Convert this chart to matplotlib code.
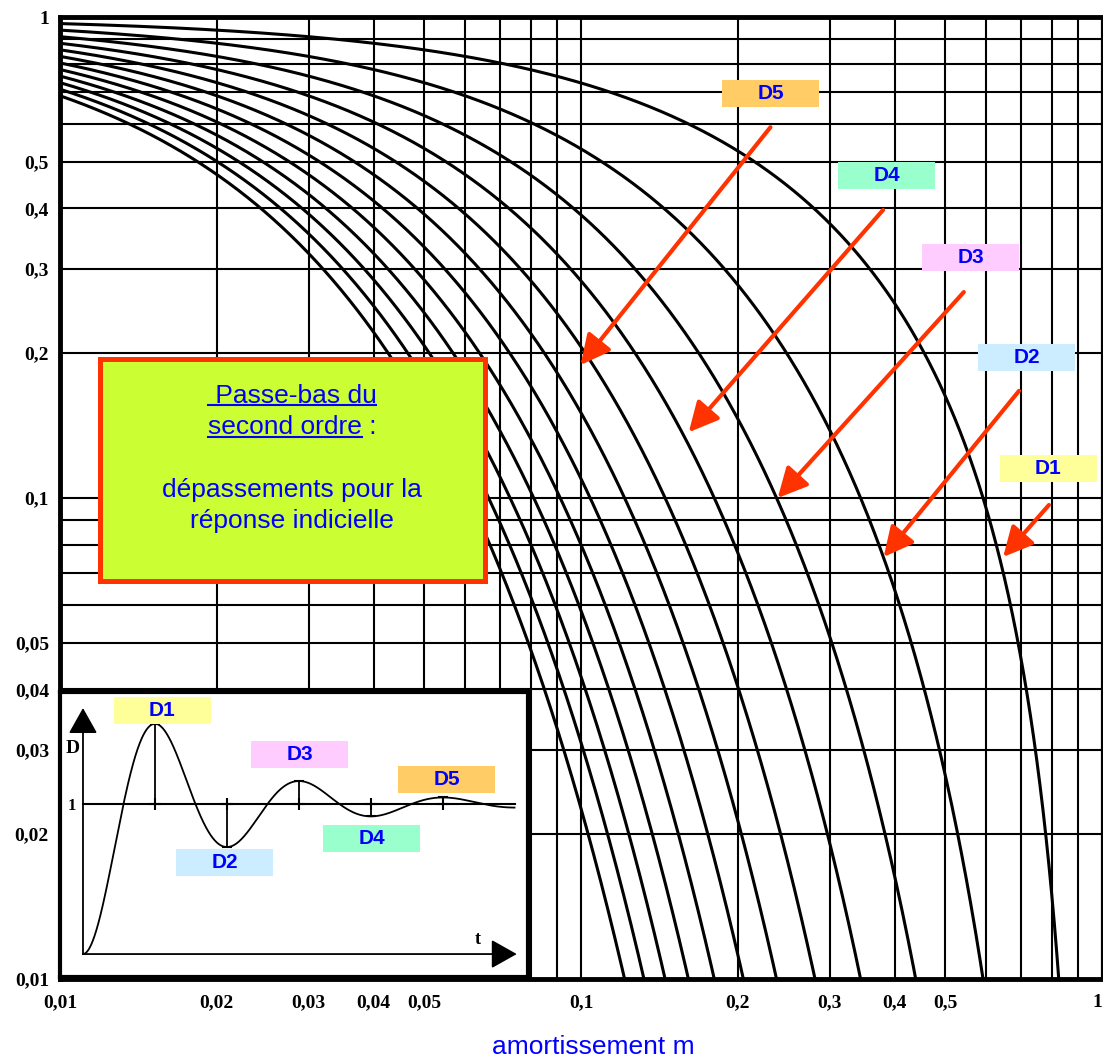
import numpy as np
import matplotlib
matplotlib.use("Agg")
import matplotlib.pyplot as plt
from matplotlib.patches import Rectangle
from matplotlib.ticker import LogLocator, NullFormatter

# orders n of the overshoots D_n drawn on the abacus
orders = list(range(1, 13))

x_ticks = [0.01, 0.02, 0.03, 0.04, 0.05, 0.1, 0.2, 0.3, 0.4, 0.5, 1]
x_tick_labels = ["0,01", "0,02", "0,03", "0,04", "0,05", "0,1", "0,2", "0,3", "0,4", "0,5", "1"]
y_ticks = [0.01, 0.02, 0.03, 0.04, 0.05, 0.1, 0.2, 0.3, 0.4, 0.5, 1]
y_tick_labels = ["0,01", "0,02", "0,03", "0,04", "0,05", "0,1", "0,2", "0,3", "0,4", "0,5", "1"]

# tags D1..D5 and the arrows pointing at their curve (damping m, overshoot D)
tag_names = ["D1", "D2", "D3", "D4", "D5"]
tag_colors = ["#FFFF99", "#CCECFF", "#FFCCFF", "#99FFCC", "#FFCC66"]
arrow_tail_m = [0.791, 0.693, 0.543, 0.380, 0.231]
arrow_tail_d = [0.0967, 0.167, 0.268, 0.397, 0.59]
arrow_tip_m = [0.646, 0.381, 0.2385, 0.161, 0.0998]
arrow_tip_d = [0.0754, 0.0754, 0.100, 0.137, 0.189]

# damping of the step response sketched in the corner
sketch_damping = 0.195

BLUE = "#0000FF"
RED = "#FF3300"
SANS = "Liberation Sans"
SERIF = "Liberation Serif"
W, H = 1103, 1061


def overshoot(n, m):
    return np.exp(-n * np.pi * m / np.sqrt(1 - m ** 2))


def step_response(t, z):
    wd = np.sqrt(1 - z ** 2)
    return 1 - np.exp(-z * t) / wd * np.sin(wd * t + np.arccos(z))


def tag(axis, cx, cy, w, h, name, color):
    axis.add_patch(Rectangle((cx - w / 2, cy - h / 2), w, h, transform=axis.transAxes,
                             facecolor=color, edgecolor="none", zorder=8, clip_on=False))
    axis.text(cx, cy, name, transform=axis.transAxes, ha="center", va="center",
              fontsize=15, fontweight="bold", color=BLUE, family=SANS, zorder=9)


fig = plt.figure(figsize=(W / 100, H / 100), dpi=100)
ax = fig.add_axes([60 / W, 1 - 979 / H, 1042 / W, 962 / H])
ax.set_xscale("log")
ax.set_yscale("log")

m = np.logspace(-2, np.log10(0.95), 2000)
for n in orders:
    ax.plot(m, overshoot(n, m), color="black", lw=2.2, zorder=3)

ax.set_xlim(0.01, 1)
ax.set_ylim(0.01, 1)
ax.set_xticks(x_ticks, x_tick_labels, family=SERIF, fontweight="bold", fontsize=14)
ax.set_yticks(y_ticks, y_tick_labels, family=SERIF, fontweight="bold", fontsize=14)
# the last x label sits on the figure edge, keep it inside
ax.get_xticklabels()[-1].set_horizontalalignment("right")
for axis in (ax.xaxis, ax.yaxis):
    axis.set_minor_locator(LogLocator(base=10, subs=np.arange(2, 10), numticks=30))
    axis.set_minor_formatter(NullFormatter())
ax.tick_params(which="both", length=0)
ax.tick_params(axis="x", pad=11)
ax.tick_params(axis="y", pad=8)
ax.grid(which="both", color="black", lw=1.5)
for side in ("top", "left", "bottom"):
    ax.spines[side].set_linewidth(3.5)
ax.spines["right"].set_linewidth(1.5)

# title box
ax.add_patch(Rectangle((0.038, 0.414), 0.370, 0.230, transform=ax.transAxes,
                       facecolor="#CCFF33", edgecolor=RED, lw=3.6, zorder=5))
box_cx = 0.2226
txt_kw = dict(transform=ax.transAxes, ha="center", va="baseline", fontsize=19,
              color=BLUE, family=SANS, zorder=6)
t1 = ax.text(box_cx, 0.5988, " Passe-bas du", **txt_kw)
t2 = ax.text(box_cx, 0.5665, "second ordre :", **txt_kw)
ax.text(box_cx, 0.5010, "dépassements pour la", **txt_kw)
ax.text(box_cx, 0.4688, "réponse indicielle", **txt_kw)

fig.canvas.draw()
renderer = fig.canvas.get_renderer()
probe = ax.text(0, 0, "second ordre", **txt_kw)
part_w = probe.get_window_extent(renderer).width
probe.remove()
to_axes = ax.transAxes.inverted()
for txt, width in ((t1, None), (t2, part_w)):
    bb = txt.get_window_extent(renderer)
    base = ax.transAxes.transform(txt.get_position())[1]
    x1 = bb.x1 if width is None else bb.x0 + width
    (ux0, uy), (ux1, _) = to_axes.transform([(bb.x0, base - 2.5), (x1, base - 2.5)])
    ax.plot([ux0, ux1], [uy, uy], transform=ax.transAxes, color=BLUE, lw=1.5, zorder=6)

# tags and arrows onto the curves
tag_x = [0.9482, 0.9275, 0.8738, 0.7932, 0.6819]
tag_y = [0.5307, 0.6461, 0.7500, 0.8352, 0.9200]
for i, name in enumerate(tag_names):
    tag(ax, tag_x[i], tag_y[i], 0.0931, 0.0281, name, tag_colors[i])
    ax.annotate("", xy=(arrow_tip_m[i], arrow_tip_d[i]),
                xytext=(arrow_tail_m[i], arrow_tail_d[i]),
                arrowprops=dict(arrowstyle="-|>,head_length=0.9,head_width=0.45",
                                color=RED, lw=3, mutation_scale=20,
                                shrinkA=0, shrinkB=0), zorder=7)

fig.text(593 / W, 1 - 1047 / H, "amortissement m", ha="center", va="center",
         fontsize=19, color=BLUE, family=SANS)

# step response sketch in the lower left corner
ins = fig.add_axes([60 / W, 1 - 977 / H, 468 / W, 285 / H])
ins.set_facecolor("white")
ins.set_xlim(-1.023, 19.8)
ins.set_ylim(-0.153, 1.747)
ins.set_xticks([])
ins.set_yticks([])
for s in ins.spines.values():
    s.set_linewidth(3)

t = np.linspace(0, 19.2, 800)
ins.plot(t, step_response(t, sketch_damping), color="black", lw=1.3)
ins.plot([0, 19.2], [1, 1], color="black", lw=1.5)

wd = np.sqrt(1 - sketch_damping ** 2)
t_ext = np.arange(1, 6) * np.pi / wd
y_ext = step_response(t_ext, sketch_damping)
ins.vlines(t_ext, 1, y_ext, color="black", lw=1.3)
ins.plot(t_ext, y_ext, ls="none", marker="_", ms=7, mew=1.5, color="black")
ins.plot(t_ext, np.ones_like(t_ext), ls="none", marker="+", ms=8, mew=1.5, color="black")

head = dict(arrowstyle="-|>,head_length=0.8,head_width=0.45", color="black",
            lw=1.3, mutation_scale=20, shrinkA=0, shrinkB=0)
ins.annotate("", xy=(0, 1.64), xytext=(0, 0), arrowprops=head)
ins.annotate("", xy=(19.3, 0), xytext=(0, 0), arrowprops=head)
lab_kw = dict(family=SERIF, fontweight="bold", ha="center", va="center")
ins.text(-0.47, 1.37, "D", fontsize=14, **lab_kw)
ins.text(-0.49, 0.99, "1", fontsize=12, **lab_kw)
ins.text(17.57, 0.10, "t", fontsize=13, **lab_kw)

ins_x = [0.219, 0.3515, 0.5118, 0.6656, 0.8258]
ins_y = [0.9368, 0.4018, 0.7807, 0.4860, 0.6930]
for i, name in enumerate(tag_names):
    tag(ins, ins_x[i], ins_y[i], 0.2073, 0.0947, name, tag_colors[i])

fig.savefig("out.png", dpi=100)
